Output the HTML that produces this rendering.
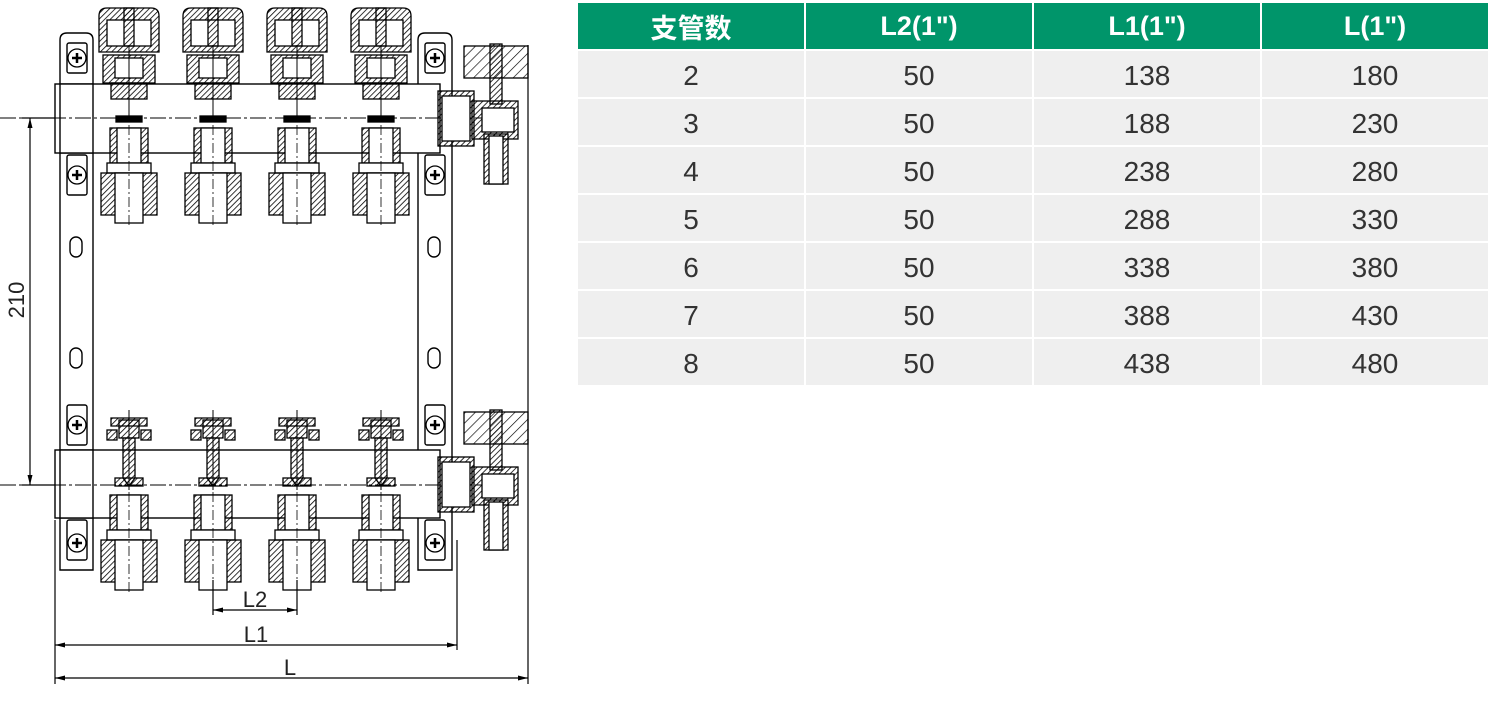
<!DOCTYPE html>
<html><head><meta charset="utf-8"><style>
body{margin:0;width:1490px;height:708px;background:#fff;overflow:hidden;position:relative;font-family:"Liberation Sans","Noto Sans CJK SC",sans-serif}
table{position:absolute;left:578px;top:3px;border-collapse:separate;border-spacing:0}
td,th{width:226px;text-align:center;padding:0;border-right:2px solid #fff;border-bottom:2px solid #fff}
th{background:#00956a;color:#fff;font-size:27px;font-weight:bold;height:46px}
td{background:#efefef;color:#333;font-size:28px;height:43px;padding-top:3px}
td:last-child,th:last-child{border-right:0}
</style></head><body>
<svg width="540" height="708" style="position:absolute;left:0;top:0" xmlns="http://www.w3.org/2000/svg">
<defs>
<pattern id="h" width="4" height="4" patternUnits="userSpaceOnUse" patternTransform="rotate(45)"><line x1="0" y1="0" x2="0" y2="4" stroke="#000" stroke-width="1.6"/></pattern>
<pattern id="h2" width="7" height="7" patternUnits="userSpaceOnUse" patternTransform="rotate(45)"><line x1="0" y1="0" x2="0" y2="7" stroke="#000" stroke-width="1.3"/></pattern>
<g id="top" stroke="#000" stroke-width="1.3">
<path d="M-30 52 V16 Q-30 8 -22 8 H22 Q30 8 30 16 V52 Z" fill="url(#h)"/>
<rect x="-22" y="20" width="44" height="26" fill="#fff"/>
<rect x="-5" y="8" width="10" height="38" fill="url(#h)"/>
<rect x="-26" y="55" width="52" height="28" fill="url(#h)"/>
<rect x="-14" y="58" width="28" height="20" fill="#fff"/>
<rect x="-18" y="83" width="36" height="16" fill="url(#h)"/>
<line x1="0" y1="45" x2="0" y2="118" stroke-width="1"/>
<rect x="-13" y="116" width="26" height="6" fill="#000"/>
</g>
<g id="bot" stroke="#000" stroke-width="1.3">
<rect x="-19" y="0" width="38" height="35" fill="url(#h)"/>
<rect x="-12" y="0" width="24" height="35" fill="#fff"/>
<rect x="-22" y="35" width="44" height="10" fill="#fff"/>
<rect x="-28" y="45" width="56" height="42" fill="url(#h)"/>
<rect x="-14" y="45" width="28" height="50" fill="#fff"/>
<line x1="0" y1="-3" x2="0" y2="98" stroke-width="0.8" stroke-dasharray="10 3 2 3"/>
</g>
<g id="tipb" stroke="#000" stroke-width="1.3">
<path d="M-18 0 H18 V8 H-18 Z" fill="url(#h)"/>
<rect x="-10" y="2" width="20" height="18" fill="url(#h)"/>
<rect x="-22" y="12" width="10" height="10" fill="url(#h)"/><rect x="12" y="12" width="10" height="10" fill="url(#h)"/>
<path d="M-6 20 V60 L0 68 L6 60 V20 Z" fill="url(#h)"/>
<rect x="-14" y="60" width="28" height="8" fill="url(#h)"/>
<line x1="0" y1="-8" x2="0" y2="72" stroke-width="1"/>
</g>
<g id="scr" stroke="#000" stroke-width="1.3" fill="#fff">
<circle r="9"/><path d="M-5 0H5M0 -5V5" stroke-width="2.5"/>
</g>
<g id="valve" stroke="#000" stroke-width="1.3">
<rect x="464" y="0" width="64" height="32" fill="url(#h2)"/>
<rect x="490" y="-2" width="12" height="60" fill="url(#h)"/>
<rect x="438" y="45" width="36" height="55" fill="url(#h)"/>
<rect x="442" y="50" width="28" height="45" fill="#fff"/>
<rect x="472" y="55" width="46" height="38" fill="url(#h)"/>
<rect x="482" y="62" width="32" height="24" fill="#fff"/>
<rect x="484" y="88" width="24" height="50" fill="url(#h)"/>
<rect x="489" y="90" width="14" height="48" fill="#fff"/>
</g>
</defs>
<g fill="none" stroke="#000" stroke-width="1.4">
<path d="M60 570 V40 Q60 33 67 33 H86 Q93 33 93 40 V570 Z" fill="#fff"/>
<path d="M418 570 V40 Q418 33 425 33 H445 Q452 33 452 40 V570 Z" fill="#fff"/>
<rect x="67" y="43" width="20" height="30" rx="2"/><rect x="67" y="155" width="20" height="40" rx="2"/>
<rect x="67" y="405" width="20" height="40" rx="2"/><rect x="67" y="520" width="20" height="40" rx="2"/>
<rect x="425" y="43" width="20" height="30" rx="2"/><rect x="425" y="155" width="20" height="40" rx="2"/>
<rect x="425" y="405" width="20" height="40" rx="2"/><rect x="425" y="520" width="20" height="40" rx="2"/>
<rect x="70" y="237" width="12" height="20" rx="6"/><rect x="70" y="348" width="12" height="20" rx="6"/>
<rect x="428" y="237" width="12" height="20" rx="6"/><rect x="428" y="348" width="12" height="20" rx="6"/>
<rect x="55" y="84" width="385" height="69" fill="#fff"/>
<rect x="55" y="450" width="385" height="68" fill="#fff"/>
<rect x="60" y="84" width="33" height="69" fill="#fff"/><rect x="60" y="450" width="33" height="68" fill="#fff"/>
</g>
<use href="#scr" x="77" y="58"/><use href="#scr" x="77" y="175"/><use href="#scr" x="77" y="425"/><use href="#scr" x="77" y="543"/>
<use href="#scr" x="435" y="58"/><use href="#scr" x="435" y="175"/><use href="#scr" x="435" y="425"/><use href="#scr" x="435" y="543"/>
<g stroke="#000" stroke-width="0.9" stroke-dasharray="16 3 3 3"><line x1="0" y1="118" x2="510" y2="118"/><line x1="0" y1="485" x2="510" y2="485"/></g>
<use href="#top" x="129"/><use href="#top" x="213"/><use href="#top" x="297"/><use href="#top" x="381"/>
<use href="#bot" x="129" y="128"/><use href="#bot" x="213" y="128"/><use href="#bot" x="297" y="128"/><use href="#bot" x="381" y="128"/>
<use href="#bot" x="129" y="495"/><use href="#bot" x="213" y="495"/><use href="#bot" x="297" y="495"/><use href="#bot" x="381" y="495"/>
<use href="#tipb" x="129" y="418"/><use href="#tipb" x="213" y="418"/><use href="#tipb" x="297" y="418"/><use href="#tipb" x="381" y="418"/>
<use href="#valve" y="46"/><use href="#valve" y="412"/>
<g stroke="#000" stroke-width="1.2" fill="none">
<line x1="22" y1="118" x2="55" y2="118"/><line x1="22" y1="485" x2="55" y2="485"/>
<line x1="30" y1="118" x2="30" y2="485"/>
<line x1="55" y1="520" x2="55" y2="684"/><line x1="528" y1="45" x2="528" y2="684"/>
<line x1="457" y1="540" x2="457" y2="650"/>
<line x1="213" y1="580" x2="213" y2="615"/><line x1="297" y1="580" x2="297" y2="615"/>
<line x1="213" y1="610" x2="297" y2="610"/>
<line x1="55" y1="645" x2="457" y2="645"/>
<line x1="55" y1="678" x2="528" y2="678"/>
</g>
<g fill="#000">
<path d="M30 118 l-2.5 10 h5z"/><path d="M30 485 l-2.5 -10 h5z"/>
<path d="M213 610 l10 -2.5 v5z"/><path d="M297 610 l-10 -2.5 v5z"/>
<path d="M55 645 l10 -2.5 v5z"/><path d="M457 645 l-10 -2.5 v5z"/>
<path d="M55 678 l10 -2.5 v5z"/><path d="M528 678 l-10 -2.5 v5z"/>
</g>
<g font-family="Liberation Sans, sans-serif" font-size="22" fill="#222" text-anchor="middle">
<text x="255" y="607">L2</text><text x="256" y="642">L1</text><text x="290" y="675">L</text>
<text transform="translate(24 300) rotate(-90)">210</text>
</g>
</svg>
<table>
<tr><th>支管数</th><th>L2(1")</th><th>L1(1")</th><th>L(1")</th></tr>
<tr><td>2</td><td>50</td><td>138</td><td>180</td></tr>
<tr><td>3</td><td>50</td><td>188</td><td>230</td></tr>
<tr><td>4</td><td>50</td><td>238</td><td>280</td></tr>
<tr><td>5</td><td>50</td><td>288</td><td>330</td></tr>
<tr><td>6</td><td>50</td><td>338</td><td>380</td></tr>
<tr><td>7</td><td>50</td><td>388</td><td>430</td></tr>
<tr><td>8</td><td>50</td><td>438</td><td>480</td></tr>
</table>
</body></html>
